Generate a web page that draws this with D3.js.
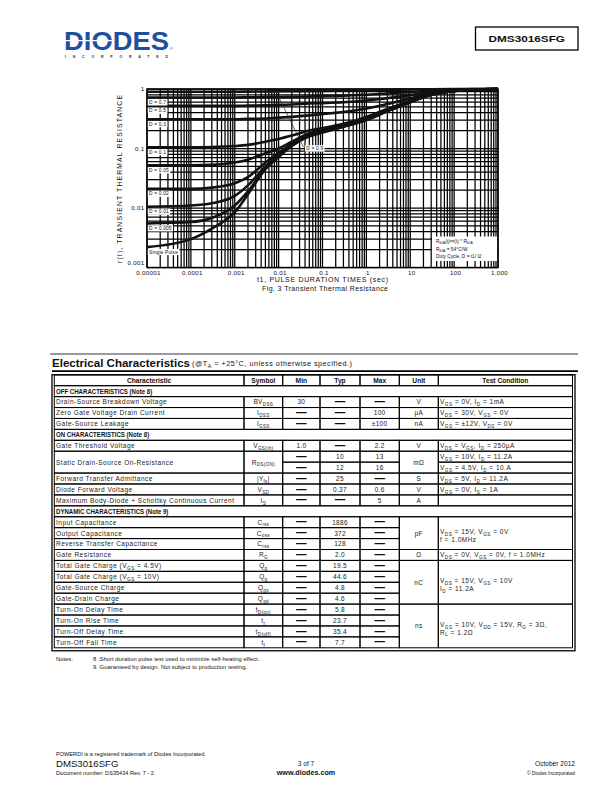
<!DOCTYPE html>
<html><head><meta charset="utf-8">
<script src="https://cdn.jsdelivr.net/npm/d3@7"></script>
<style>
body{margin:0;background:#fff}
svg{display:block}
text{font-family:"Liberation Sans",Arial,Helvetica,sans-serif;fill:#111}
</style></head><body>
<svg id="page" width="612" height="792"></svg>
<script>
// ---------------- chart data ----------------
const pulseTimes = [1e-5,1e-4,3e-4,1e-3,2e-3,5e-3,1e-2,2e-2,5e-2,0.1,0.3,1,3,10,30,100,300,1000];
const rD09   = [0.90,0.90,0.90,0.90,0.905,0.91,0.915,0.92,0.925,0.93,0.94,0.95,0.965,0.98,0.99,0.997,1.0,1.0];
const rD07   = [0.72,0.72,0.72,0.72,0.725,0.73,0.735,0.74,0.75,0.76,0.77,0.80,0.84,0.89,0.94,0.98,0.995,1.0];
const rD05   = [0.52,0.52,0.52,0.52,0.525,0.53,0.54,0.55,0.57,0.58,0.60,0.64,0.70,0.79,0.89,0.96,0.99,1.0];
const rD03   = [0.31,0.31,0.31,0.31,0.315,0.32,0.33,0.34,0.36,0.38,0.41,0.47,0.56,0.70,0.85,0.95,0.99,1.0];
const rD01   = [0.105,0.105,0.106,0.11,0.115,0.13,0.145,0.165,0.20,0.22,0.26,0.34,0.46,0.63,0.81,0.93,0.98,1.0];
const rD005  = [0.052,0.052,0.053,0.058,0.065,0.083,0.10,0.13,0.18,0.205,0.25,0.33,0.45,0.62,0.81,0.93,0.98,1.0];
const rD002  = [0.021,0.021,0.022,0.026,0.033,0.058,0.085,0.12,0.17,0.197,0.24,0.315,0.435,0.61,0.80,0.93,0.98,1.0];
const rD001  = [0.0105,0.011,0.012,0.016,0.024,0.05,0.078,0.115,0.165,0.192,0.237,0.31,0.43,0.61,0.80,0.93,0.98,1.0];
const rD0005 = [0.0055,0.0058,0.0068,0.011,0.019,0.046,0.074,0.112,0.163,0.19,0.235,0.305,0.425,0.60,0.80,0.93,0.98,1.0];
const rSingle= [0.0022,0.0030,0.0045,0.0085,0.017,0.045,0.072,0.11,0.16,0.185,0.23,0.30,0.42,0.60,0.80,0.93,0.98,1.0];
const seriesList   = [rD09, rD07, rD05, rD03, rD01, rD005, rD002, rD001, rD0005, rSingle];
const seriesLabels = [null, "D = 0.7","D = 0.5","D = 0.3","D = 0.1","D = 0.05","D = 0.02","D = 0.01","D = 0.005","Single Pulse"];
const d09Label = "D = 0.9";
const d09LeaderFrom = [0.0083, 0.97];
const d09LeaderTo   = [0.037, 0.105];
const xTickValues = [1e-5,1e-4,1e-3,1e-2,1e-1,1,10,100,1000];
const xTickLabels = ["0.00001","0.0001","0.001","0.01","0.1","1","10","100","1,000"];
const yTickValues = [1,0.1,0.01,0.001];
const yTickLabels = ["1","0.1","0.01","0.001"];
const xTitle = "t1, PULSE DURATION TIMES (sec)";
const yTitle = "r(t), TRANSIENT THERMAL RESISTANCE";
const figTitle = "Fig. 3 Transient Thermal Resistance";
const legendLines = ["R_{θJA}(t)=r(t) * R_{θJA}", "R_{θJA} = 54°C/W", "Duty Cycle, D = t1/ t2"];

// ---------------- table data ----------------
const tableHeader = ["Characteristic","Symbol","Min","Typ","Max","Unit","Test Condition"];
const offRows = [
 ["#OFF CHARACTERISTICS (Note 8)"],
 ["Drain-Source Breakdown Voltage","BV_{DSS}","30","—","—","V","V_{GS} = 0V, I_{D} = 1mA"],
 ["Zero Gate Voltage Drain Current","I_{DSS}","—","—","100","µA","V_{DS} = 30V, V_{GS} = 0V"],
 ["Gate-Source Leakage","I_{GSS}","—","—","±100","nA","V_{GS} = ±12V, V_{DS} = 0V"]
];
const onRows = [
 ["#ON CHARACTERISTICS (Note 8)"],
 ["Gate Threshold Voltage","V_{GS(th)}","1.0","—","2.2","V","V_{DS} = V_{GS}, I_{D} = 250µA"],
 ["Static Drain-Source On-Resistance","R_{DS(ON)}","—","10","13","mΩ","V_{GS} = 10V, I_{D} = 11.2A"],
 ["^","^","—","12","16","^","V_{GS} = 4.5V, I_{D} = 10.A"],
 ["Forward Transfer Admittance","|Y_{fs}|","—","25","—","S","V_{DS} = 5V, I_{D} = 11.2A"],
 ["Diode Forward Voltage","V_{SD}","—","0.37","0.6","V","V_{GS} = 0V, I_{S} = 1A"],
 ["Maximum Body-Diode + Schottky Continuous Current","I_{S}","—","—","5","A",""]
];
const dynRows = [
 ["#DYNAMIC CHARACTERISTICS (Note 9)"],
 ["Input Capacitance","C_{iss}","—","1886","—","pF","V_{DS} = 15V, V_{GS} = 0V\nf = 1.0MHz"],
 ["Output Capacitance","C_{oss}","—","372","—","^","^"],
 ["Reverse Transfer Capacitance","C_{rss}","—","128","—","^","^"],
 ["Gate Resistance","R_{G}","—","2.0","—","Ω","V_{DS} = 0V, V_{GS} = 0V, f = 1.0MHz"],
 ["Total Gate Charge  (V_{GS} = 4.5V)","Q_{g}","—","19.5","—","nC","V_{DS} = 15V, V_{GS} = 10V\nI_{D} = 11.2A"],
 ["Total Gate Charge  (V_{GS} = 10V)","Q_{g}","—","44.6","—","^","^"],
 ["Gate-Source Charge","Q_{gs}","—","4.8","—","^","^"],
 ["Gate-Drain Charge","Q_{gd}","—","4.6","—","^","^"],
 ["Turn-On Delay Time","t_{D(on)}","—","5.8","—","ns","V_{GS} = 10V, V_{DD} = 15V, R_{G} = 3Ω,\nR_{L} = 1.2Ω"],
 ["Turn-On Rise Time","t_{r}","—","23.7","—","^","^"],
 ["Turn-Off Delay Time","t_{D(off)}","—","35.4","—","^","^"],
 ["Turn-Off Fall Time","t_{f}","—","7.7","—","^","^"]
];
const notes = ["8 .Short duration pulse test used to minimize self-heating effect.",
               "9. Guaranteed by design. Not subject to production testing."];

// ---------------- helpers ----------------
const svg = d3.select("#page");
function rich(t, str, fs) {
  const parts = str.split(/(_\{[^}]*\})/).filter(s => s.length);
  let shifted = false;
  parts.forEach(p => {
    if (p.startsWith("_{")) {
      t.append("tspan").attr("font-size", fs * 0.72).attr("dy", shifted ? 0 : fs * 0.28).text(p.slice(2, -1));
      shifted = true;
    } else {
      const s = t.append("tspan").text(p);
      if (shifted) { s.attr("dy", -fs * 0.28); shifted = false; }
    }
  });
  return t;
}

// ---------------- header ----------------
const logo = svg.append("g");
logo.append("text").attr("x", 64).attr("y", 50).attr("font-size", 26.5).attr("font-weight", 900)
  .attr("textLength", 105).attr("lengthAdjust", "spacingAndGlyphs")
  .style("fill", "#1f4f9f").text("DIODES");
logo.append("line").attr("x1", 63).attr("x2", 112).attr("y1", 40.6).attr("y2", 40.6)
  .attr("stroke", "#fff").attr("stroke-width", 1.4);
logo.append("path").attr("d", "M104,37.4 L110,40.6 L104,43.8 Z").attr("fill", "#fff");
logo.append("text").attr("x", 170).attr("y", 50).attr("font-size", 4).style("fill", "#1f4f9f").text("®");
logo.append("text").attr("x", 65).attr("y", 57.5).attr("font-size", 3.6).attr("font-weight", "bold")
  .attr("textLength", 103).attr("lengthAdjust", "spacing").style("fill", "#333").text("INCORPORATED");

svg.append("rect").attr("x", 475.5).attr("y", 27).attr("width", 102.5).attr("height", 23)
  .attr("fill", "none").attr("stroke", "#000").attr("stroke-width", 1.3);
svg.append("text").attr("x", 488.5).attr("y", 42).attr("font-size", 9.6).attr("font-weight", "bold")
  .attr("textLength", 76.5).attr("lengthAdjust", "spacingAndGlyphs").text("DMS3016SFG");

// ---------------- chart ----------------
const x = d3.scaleLog().domain([1e-5, 1000]).range([147, 498]);
const y = d3.scaleLog().domain([0.001, 1]).range([267.5, 89]);
const chart = svg.append("g");

chart.append("g").selectAll("line").data(x.ticks()).join("line")
  .attr("x1", d => x(d)).attr("x2", d => x(d)).attr("y1", y(0.001)).attr("y2", y(1))
  .attr("stroke", "#000").attr("stroke-width", 1.25);
chart.append("g").selectAll("line").data(y.ticks()).join("line")
  .attr("y1", d => y(d)).attr("y2", d => y(d)).attr("x1", x(1e-5)).attr("x2", x(1000))
  .attr("stroke", "#000").attr("stroke-width", 1.25);
chart.append("rect").attr("x", x(1e-5)).attr("y", y(1)).attr("width", x(1000) - x(1e-5))
  .attr("height", y(0.001) - y(1)).attr("fill", "none").attr("stroke", "#000").attr("stroke-width", 1.4);

const line = d3.line().x((d, i) => x(pulseTimes[i])).y(d => y(d)).curve(d3.curveMonotoneX);
chart.append("g").selectAll("path").data(seriesList).join("path")
  .attr("d", d => line(d)).attr("fill", "none").attr("stroke", "#111")
  .attr("stroke-width", 2.6).attr("stroke-linejoin", "round");

// curve labels
seriesList.forEach((s, i) => {
  if (!seriesLabels[i]) return;
  const yy = y(s[0]);
  const g = chart.append("g");
  const t = g.append("text").attr("x", x(1e-5) + 2).attr("y", yy + 6.6).attr("font-size", 4.8)
    .style("letter-spacing", "0.2px").text(seriesLabels[i]);
  const w = t.node().getComputedTextLength();
  g.insert("rect", "text").attr("x", x(1e-5) + 0.8).attr("y", yy + 1.8).attr("width", w + 2.6)
    .attr("height", 6.2).attr("fill", "#fff");
});
// D = 0.9 label with leader
chart.append("line").attr("x1", x(d09LeaderFrom[0])).attr("y1", y(d09LeaderFrom[1]))
  .attr("x2", x(d09LeaderTo[0])).attr("y2", y(d09LeaderTo[1])).attr("stroke", "#222").attr("stroke-width", 0.7);
{
  const lx = x(d09LeaderTo[0]) + 1.5, ly = y(d09LeaderTo[1]) + 1;
  const g = chart.append("g");
  const t = g.append("text").attr("x", lx + 1.2).attr("y", ly + 2.2).attr("font-size", 4.8)
    .style("letter-spacing", "0.2px").text(d09Label);
  const w = t.node().getComputedTextLength();
  g.insert("rect", "text").attr("x", lx).attr("y", ly - 3).attr("width", w + 2.6).attr("height", 6.4).attr("fill", "#fff");
}
// legend box
const lg = chart.append("g");
lg.append("rect").attr("x", 432).attr("y", 236.5).attr("width", 65).attr("height", 24.5).attr("fill", "#fff");
legendLines.forEach((s, i) => {
  rich(lg.append("text").attr("x", 436).attr("y", 243 + i * 7.5).attr("font-size", 4.8), s, 4.8);
});

// tick labels
chart.append("g").selectAll("text").data(xTickValues).join("text")
  .attr("x", d => x(d) + 1.5).attr("y", 274.5).attr("text-anchor", "middle").attr("font-size", 6.2)
  .style("letter-spacing", "0.3px").text((d, i) => xTickLabels[i]);
chart.append("g").selectAll("text").data(yTickValues).join("text")
  .attr("x", 144.5).attr("y", (d, i) => (i === 3 ? y(d) - 3 : y(d) + 2.2)).attr("text-anchor", "end")
  .attr("font-size", 6.2).style("letter-spacing", "0.3px").text((d, i) => yTickLabels[i]);

chart.append("text").attr("x", 257).attr("y", 282).attr("font-size", 7)
  .attr("textLength", 131).attr("lengthAdjust", "spacing").text(xTitle);
chart.append("text").attr("x", 262).attr("y", 291).attr("font-size", 7)
  .attr("textLength", 126).attr("lengthAdjust", "spacing").text(figTitle);
chart.append("text").attr("transform", "translate(122,263) rotate(-90)").attr("font-size", 6.8)
  .attr("textLength", 168).attr("lengthAdjust", "spacing").text(yTitle);

// ---------------- Electrical Characteristics table ----------------
svg.append("line").attr("x1", 50).attr("x2", 578).attr("y1", 354).attr("y2", 354).attr("stroke", "#000").attr("stroke-width", 0.8);
svg.append("line").attr("x1", 52).attr("x2", 578).attr("y1", 371.2).attr("y2", 371.2).attr("stroke", "#000").attr("stroke-width", 1.8);
svg.append("text").attr("x", 52).attr("y", 366.5).attr("font-size", 11.5).attr("font-weight", "bold")
  .attr("textLength", 138).attr("lengthAdjust", "spacingAndGlyphs").text("Electrical Characteristics");
rich(svg.append("text").attr("x", 192).attr("y", 365.5).attr("font-size", 7.2)
  .attr("textLength", 160).attr("lengthAdjust", "spacing"), "(@T_{A} = +25°C, unless otherwise specified.)", 7.2);

const colEdges = [54.3, 244, 282.7, 320, 360, 399.3, 438.3, 572.5];
const tableTop = 375, headerBottom = 385.7, rowH = 10.92;
const tbl = svg.append("g");
const FS = 6.5;
// header
tableHeader.forEach((h, c) => {
  tbl.append("rect").attr("x", colEdges[c]).attr("y", tableTop).attr("width", colEdges[c + 1] - colEdges[c])
    .attr("height", headerBottom - tableTop).attr("fill", "none").attr("stroke", "#000").attr("stroke-width", 1);
  const t = tbl.append("text").attr("x", (colEdges[c] + colEdges[c + 1]) / 2).attr("y", headerBottom - 2.4)
    .attr("text-anchor", "middle").attr("font-size", 7.4).attr("font-weight", "bold").text(h);
  const w = t.node().getComputedTextLength();
  t.attr("textLength", w * 0.9).attr("lengthAdjust", "spacingAndGlyphs");
});
const allRows = offRows.concat(onRows, dynRows);
allRows.forEach((row, r) => {
  const top = headerBottom + r * rowH;
  if (row.length === 1) {
    tbl.append("rect").attr("x", colEdges[0]).attr("y", top).attr("width", colEdges[7] - colEdges[0])
      .attr("height", rowH).attr("fill", "none").attr("stroke", "#000").attr("stroke-width", 1);
    const t = tbl.append("text").attr("x", 56).attr("y", top + 8).attr("font-size", 7.6).attr("font-weight", "bold")
      .text(row[0].slice(1));
    const w = t.node().getComputedTextLength();
    t.attr("textLength", w * 0.8).attr("lengthAdjust", "spacingAndGlyphs");
    return;
  }
  row.forEach((v, c) => {
    if (v === "^") return;
    let span = 1;
    while (allRows[r + span] && allRows[r + span][c] === "^") span++;
    const x0 = colEdges[c], x1 = colEdges[c + 1];
    tbl.append("rect").attr("x", x0).attr("y", top).attr("width", x1 - x0).attr("height", rowH * span)
      .attr("fill", "none").attr("stroke", "#000").attr("stroke-width", 1);
    if (!v) return;
    const mid = top + rowH * span / 2;
    if (v === "—") {
      tbl.append("text").attr("x", (x0 + x1) / 2).attr("y", mid + 3.1).attr("text-anchor", "middle")
        .attr("font-size", 10.5).attr("font-weight", "bold").text("—");
      return;
    }
    const lines = v.split("\n");
    const base0 = lines.length > 1 ? mid + 1.2 : mid + 2.4;
    lines.forEach((ln, k) => {
      const t = tbl.append("text").attr("y", base0 + k * 7.4).attr("font-size", FS).attr("font-weight", "normal")
        .style("fill", "#222")
        .style("letter-spacing", c === 0 || c === 6 ? "0.5px" : "0.3px");
      if (c === 0) t.attr("x", 56);
      else if (c === 6) t.attr("x", 440);
      else t.attr("x", (x0 + x1) / 2).attr("text-anchor", "middle");
      rich(t, ln, FS);
    });
  });
});
const tableBottom = headerBottom + allRows.length * rowH;
tbl.append("rect").attr("x", 52).attr("y", tableTop - 0.3).attr("width", 575 - 52).attr("height", tableBottom + 3 - tableTop + 0.3)
  .attr("fill", "none").attr("stroke", "#000").attr("stroke-width", 1.3);

// notes
svg.append("text").attr("x", 56).attr("y", 661).attr("font-size", 5.8).text("Notes:");
notes.forEach((n, i) => {
  svg.append("text").attr("x", 93).attr("y", 661 + i * 8.3).attr("font-size", 5.8)
    .style("letter-spacing", "0.05px").text(n);
});

// ---------------- footer ----------------
svg.append("text").attr("x", 56).attr("y", 756).attr("font-size", 5.6).text("POWERDI is a registered trademark of Diodes Incorporated.");
svg.append("text").attr("x", 56).attr("y", 766.5).attr("font-size", 9.6).text("DMS3016SFG");
svg.append("text").attr("x", 56).attr("y", 775).attr("font-size", 5.6).text("Document number: DS35434  Rev. 7 - 2");
svg.append("text").attr("x", 306).attr("y", 766).attr("text-anchor", "middle").attr("font-size", 6.6).text("3 of 7");
svg.append("text").attr("x", 306).attr("y", 774.5).attr("text-anchor", "middle").attr("font-size", 7.2).attr("font-weight", "bold").text("www.diodes.com");
svg.append("text").attr("x", 575).attr("y", 766).attr("text-anchor", "end").attr("font-size", 6.6).text("October 2012");
svg.append("text").attr("x", 575).attr("y", 774.5).attr("text-anchor", "end").attr("font-size", 4.8).text("© Diodes Incorporated");
</script>
</body></html>
